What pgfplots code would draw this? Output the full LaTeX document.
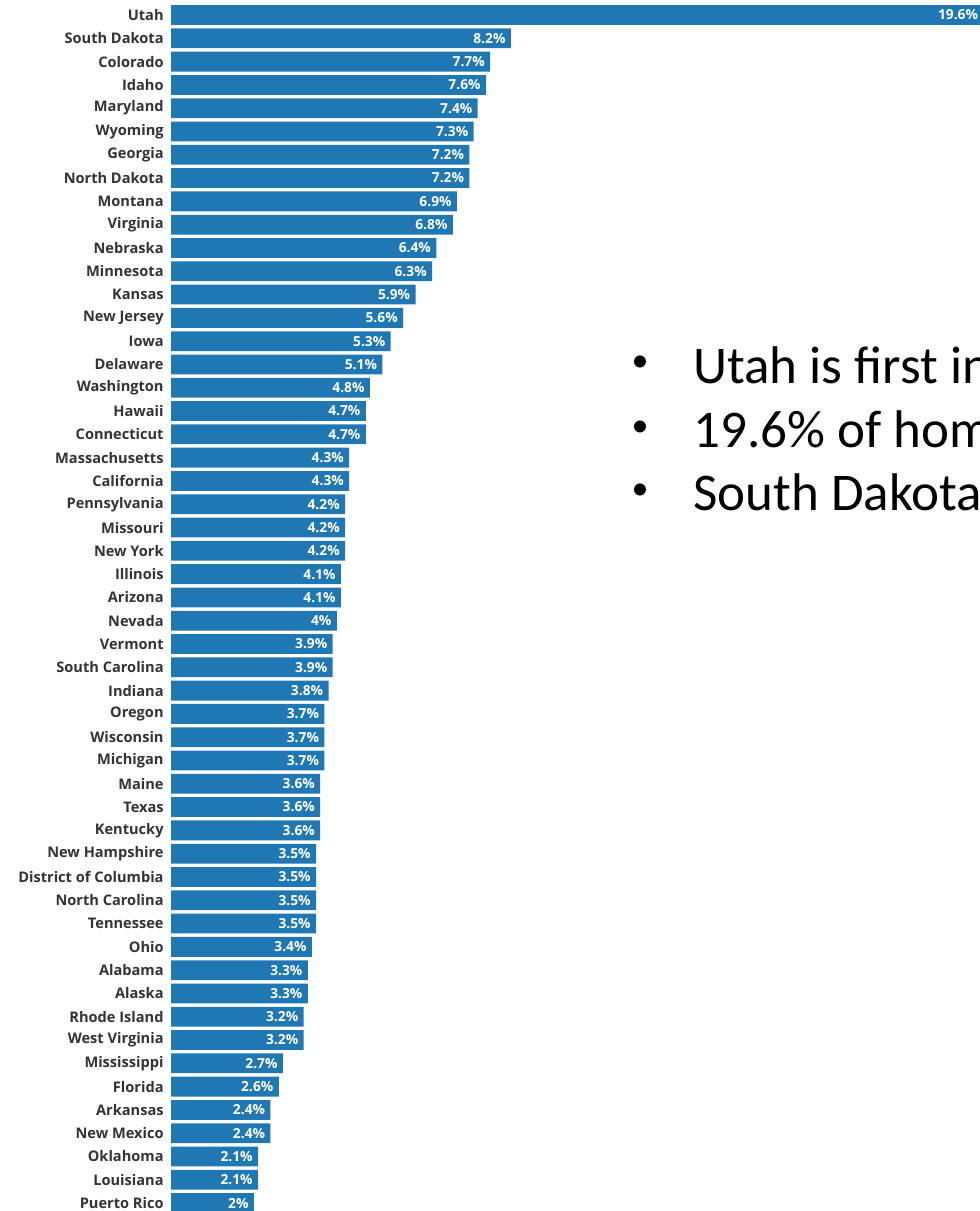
\documentclass[border=0pt]{standalone}
\usepackage{pgfplots}
\pgfplotsset{compat=1.18}
\usepackage{pgfplotstable}
\usepackage{fontspec}
\setmainfont{Open Sans}
\newfontfamily\bulletfont{Carlito}
\definecolor{barblue}{HTML}{1F77B4}
\definecolor{labgray}{HTML}{333333}

\pgfplotstableread{
idx val
0 19.6
1 8.2
2 7.7
3 7.6
4 7.4
5 7.3
6 7.2
7 7.2
8 6.9
9 6.8
10 6.4
11 6.3
12 5.9
13 5.6
14 5.3
15 5.1
16 4.8
17 4.7
18 4.7
19 4.3
20 4.3
21 4.2
22 4.2
23 4.2
24 4.1
25 4.1
26 4
27 3.9
28 3.9
29 3.8
30 3.7
31 3.7
32 3.7
33 3.6
34 3.6
35 3.6
36 3.5
37 3.5
38 3.5
39 3.5
40 3.4
41 3.3
42 3.3
43 3.2
44 3.2
45 2.7
46 2.6
47 2.4
48 2.4
49 2.1
50 2.1
51 2
}\data

\begin{document}
\begin{tikzpicture}
\useasboundingbox (0,0) rectangle (490pt,-605.5pt);
\clip (0,0) rectangle (490pt,-605.5pt);
\begin{axis}[
  at={(85.5pt,0pt)}, anchor=north west,
  scale only axis, width=406.2pt, height=605.5pt,
  xmin=0, xmax=19.6, ymin=-0.644, ymax=51.34, y dir=reverse,
  xbar, bar width=0.85, bar shift=0pt,
  axis line style={draw=none}, xtick=\empty,
  ytick={0,...,51},
  yticklabels={Utah,South Dakota,Colorado,Idaho,Maryland,Wyoming,Georgia,North Dakota,Montana,Virginia,Nebraska,Minnesota,Kansas,New Jersey,Iowa,Delaware,Washington,Hawaii,Connecticut,Massachusetts,California,Pennsylvania,Missouri,New York,Illinois,Arizona,Nevada,Vermont,South Carolina,Indiana,Oregon,Wisconsin,Michigan,Maine,Texas,Kentucky,New Hampshire,District of Columbia,North Carolina,Tennessee,Ohio,Alabama,Alaska,Rhode Island,West Virginia,Mississippi,Florida,Arkansas,New Mexico,Oklahoma,Louisiana,Puerto Rico},
  major tick length=0pt,
  yticklabel style={font=\bfseries\fontsize{7.3}{8}\selectfont, text=labgray, inner sep=0pt, xshift=-3.5pt},
  nodes near coords={\pgfmathprintnumber[assume math mode=true]{\pgfplotspointmeta}\%},
  nodes near coords style={anchor=east, font=\bfseries\fontsize{6.9}{8}\selectfont, text=white, inner sep=0pt, xshift=-2.5pt},
]
\addplot[fill=barblue, draw=none] table[x=val,y=idx]{\data};
\end{axis}
\begin{scope}[every node/.style={inner sep=0pt, font=\bulletfont\fontsize{26.5}{32}\selectfont}]
\node[anchor=center, font=\bulletfont\fontsize{17}{20}\selectfont] at (320pt,-182pt) {•};
\node[anchor=center, font=\bulletfont\fontsize{17}{20}\selectfont] at (320pt,-214.25pt) {•};
\node[anchor=center, font=\bulletfont\fontsize{17}{20}\selectfont] at (320pt,-245.75pt) {•};
\node[anchor=base west] at (346.5pt,-191.5pt) {Utah is first in};
\node[anchor=base west] at (346.5pt,-223.5pt) {19.6\% of homes};
\node[anchor=base west] at (346.5pt,-255pt) {South Dakota};
\end{scope}
\end{tikzpicture}
\end{document}
